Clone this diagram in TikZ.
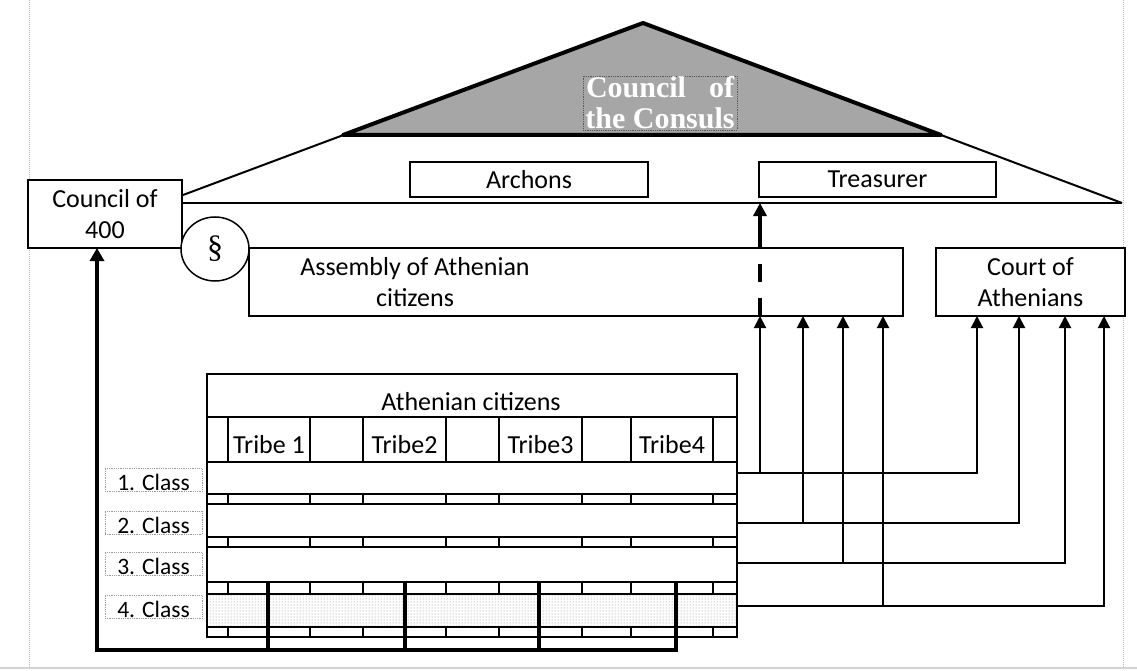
\documentclass[tikz,border=0pt]{standalone}
\usepackage{fontspec}
\setmainfont{Carlito}
\newfontfamily\serifb{Liberation Serif}
\usetikzlibrary{arrows.meta,patterns,shapes.geometric}
\begin{document}
\begin{tikzpicture}[x=1pt,y=-1pt,
  txt/.style={font=\fontsize{26}{31}\selectfont, inner sep=0pt, align=center},
  box/.style={draw, line width=2pt, inner sep=0pt, align=center, fill=white, font=\fontsize{26}{31}\selectfont},
  lbl/.style={draw=gray!80, densely dotted, line width=0.8pt, inner xsep=0pt, inner ysep=1pt, text height=21pt, text depth=0pt,
              minimum width=97pt, font=\fontsize{23.5}{26}\selectfont},
  conn/.style={line width=2pt},
  arr/.style={line width=2pt, -{Triangle[length=12pt,width=12pt]}},
  bigarr/.style={line width=4pt, line join=miter, -{Triangle[length=13pt,width=14pt]}},
  tbl/.style={line width=2.5pt},
  thk/.style={line width=4pt},
  pageline/.style={gray!55, densely dotted, line width=1pt}]
\useasboundingbox (0,0) rectangle (1137,671);

% page artifacts
\draw[pageline] (29,0) -- (29,667);
\draw[pageline] (1123,0) -- (1123,667);
\draw[gray!35, line width=1.5pt] (0,668) -- (1137,668);

% boxes
\node[box, minimum width=154pt, minimum height=68pt] (council) at (105,214) {Council of\\400};
\node[box, minimum width=238pt, minimum height=35pt] (archons) at (529,179.5) {Archons};
\node[box, minimum width=237pt, minimum height=35pt] (treas) at (877.5,179.5) {Treasurer};
\node[box, minimum width=654pt, minimum height=68pt] (asm) at (576,282) {};
\node[txt] (asmtext) at (415,282) {Assembly of Athenian\\citizens};
\node[box, minimum width=189pt, minimum height=68pt] (court) at (1030.5,282) {Court of\\Athenians};
\node[draw, fill=white, ellipse, line width=1.5pt, minimum width=68pt, minimum height=64pt, inner sep=0pt,
      font=\serifb\fontsize{32}{32}\selectfont] (sect) at (215,249) {\raisebox{3pt}{§}};

% roof
\coordinate (rl) at (183,195);
\coordinate (apex) at (643,23);
\coordinate (rr) at (1122,203);
\coordinate (hl) at (183,203);
\draw[conn] (rl) -- (apex) -- (rr);
\draw[conn] (hl) -- (rr);
\draw[fill=gray!70, line width=4pt, line join=round] (343,135) -- (apex) -- (941,135) -- cycle;
\node[draw=gray!70!black, densely dotted, line width=0.8pt, minimum width=154pt, minimum height=54pt, inner sep=0pt,
      text=white, align=center, font=\serifb\bfseries\fontsize{30}{31}\selectfont] (consuls) at (660,103)
      {\makebox[148pt][s]{Council of}\\the Consuls};

% table
\fill[pattern=dots, pattern color=gray] (207,594) rectangle (737,627);
\draw[tbl] (207,374) rectangle (737,637);
\foreach \y in {417,462,494,504,537,547,582,594,627}
  \draw[tbl] (207,\y) -- (737,\y);
\foreach \x in {228,310,363,446,499,582,631,713} {
  \draw[tbl] (\x,417) -- (\x,462);
  \draw[tbl] (\x,494) -- (\x,504);
  \draw[tbl] (\x,537) -- (\x,547);
  \draw[tbl] (\x,582) -- (\x,594);
  \draw[tbl] (\x,627) -- (\x,637);
}
\node[txt, anchor=base] (hdr) at (471,410) {Athenian citizens};
\node[txt, anchor=base] (t1) at (269,453) {Tribe 1};
\node[txt, anchor=base] (t2) at (404.5,453) {Tribe2};
\node[txt, anchor=base] (t3) at (540.5,453) {Tribe3};
\node[txt, anchor=base] (t4) at (672,453) {Tribe4};

\node[lbl] (cl1) at (153.5,480) {1. Class};
\node[lbl] (cl2) at (153.5,522.5) {2. Class};
\node[lbl] (cl3) at (153.5,564) {3. Class};
\node[lbl] (cl4) at (153.5,607) {4. Class};

% thick tribe lines and arrow to Council of 400
\foreach \x in {268,405,539}
  \draw[thk] (\x,582) -- (\x,650);
\coordinate (cs) at (676,582);
\coordinate (cin) at (97,248);
\draw[bigarr] (cs) -- (676,650) -| (cin);

% connectors from classes
\coordinate (r1) at (737,473);
\coordinate (r2) at (737,523);
\coordinate (r3) at (737,563);
\coordinate (r4) at (737,606);
\coordinate (a1) at (760,316);
\coordinate (a2) at (803,316);
\coordinate (a3) at (843,316);
\coordinate (a4) at (883,316);
\coordinate (k1) at (977,316);
\coordinate (k2) at (1019,316);
\coordinate (k3) at (1065,316);
\coordinate (k4) at (1104,316);
\draw[arr] (r1) -| (k1);
\draw[arr] (r2) -| (k2);
\draw[arr] (r3) -| (k3);
\draw[arr] (r4) -| (k4);
\draw[arr] (a1 |- r1) -- (a1);
\draw[arr] (a2 |- r2) -- (a2);
\draw[arr] (a3 |- r3) -- (a3);
\draw[arr] (a4 |- r4) -- (a4);

% dashed link to Treasurer
\coordinate (tr) at (760,203);
\draw[line width=3.5pt, dash pattern=on 18pt off 16pt] (a1) -- (a1 |- asm.north);
\draw[line width=3.5pt, -{Triangle[length=13pt,width=13pt]}] (a1 |- asm.north) -- (tr);
\end{tikzpicture}
\end{document}
